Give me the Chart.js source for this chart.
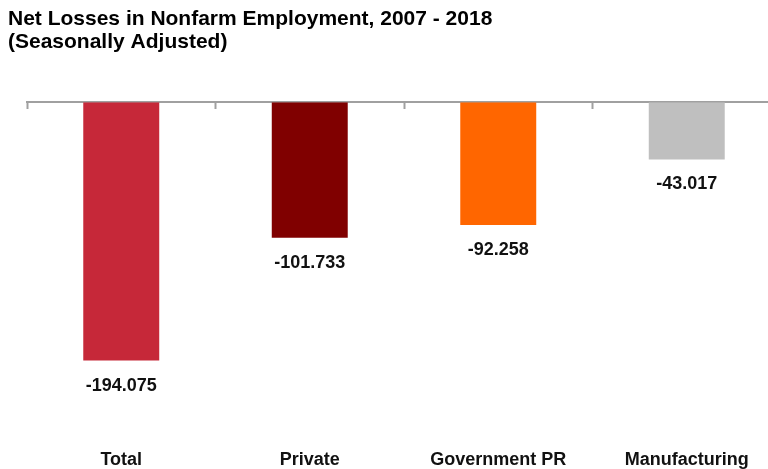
<html>
    <head>
        <meta charset="utf-8">
        <title>Net Losses in Nonfarm Employment</title>
        <script src="https://cdn.jsdelivr.net/npm/chart.js"></script>
        <style>
            body { margin: 0; overflow: hidden; background: #fff; }
        </style>
    </head>
    <body>
        <canvas id="graph" width="781" height="471"></canvas>

        <script>
            // categories and net losses (thousands of jobs)
            var categories = ["Total", "Private", "Government PR", "Manufacturing"]
            var losses = [-194.075, -101.733, -92.258, -43.017]
            var barColors = ["#C62839", "#800000", "#FF6600", "#BFBFBF"]
            var titleLines = ["Net Losses in Nonfarm Employment, 2007 - 2018", "(Seasonally Adjusted)"]

            var font = "'Liberation Sans', Arial, sans-serif"

            // writes each value just under the end of its bar
            const valueLabels = {
                id: "valueLabels",
                afterDatasetsDraw(chart) {
                    const ctx = chart.ctx
                    const meta = chart.getDatasetMeta(0)
                    ctx.save()
                    ctx.font = "bold 18px " + font
                    ctx.fillStyle = "#111"
                    ctx.textAlign = "center"
                    ctx.textBaseline = "middle"
                    meta.data.forEach((bar, i) => {
                        ctx.fillText(losses[i].toFixed(3), bar.x, bar.y + 25)
                    })
                    ctx.restore()
                }
            }

            const graphConfig = {
                type: "bar",
                data: {
                    labels: categories,
                    datasets: [
                        {
                            label: "Net losses",
                            data: losses,
                            backgroundColor: barColors,
                            borderWidth: 0,
                            categoryPercentage: 1,
                            barPercentage: 0.403
                        }
                    ]
                },
                options: {
                    responsive: false,
                    devicePixelRatio: 1,
                    animation: false,
                    layout: { padding: { left: 8, right: 0, top: 0, bottom: 0 } },
                    plugins: {
                        legend: { display: false },
                        tooltip: { enabled: false },
                        title: {
                            display: true,
                            text: titleLines,
                            align: "start",
                            color: "#000",
                            font: { family: font, size: 21, weight: "bold", lineHeight: 1.1 },
                            padding: { top: 8, bottom: 48 }
                        }
                    },
                    scales: {
                        // zero line with tick marks between the categories
                        x: {
                            position: { y: 0 },
                            offset: true,
                            grid: {
                                offset: true,
                                drawOnChartArea: false,
                                drawTicks: true,
                                tickLength: 6,
                                tickColor: "#A0A0A0",
                                tickWidth: 2
                            },
                            border: { display: true, color: "#A0A0A0", width: 2 },
                            ticks: { display: false },
                            afterFit(scale) { scale.height = 0 }
                        },
                        // category names along the bottom
                        x2: {
                            type: "category",
                            labels: categories,
                            position: "bottom",
                            offset: true,
                            grid: { display: false, drawTicks: false },
                            border: { display: false },
                            ticks: {
                                padding: 14,
                                color: "#111",
                                maxRotation: 0,
                                autoSkip: false,
                                font: { family: font, size: 18, weight: "bold" }
                            },
                            afterFit(scale) { scale.height = 36 }
                        },
                        y: {
                            min: -250,
                            max: 0,
                            grid: { display: false },
                            border: { display: false },
                            ticks: { display: false },
                            afterFit(scale) { scale.width = 19 }
                        }
                    }
                },
                plugins: [valueLabels]
            }

            new Chart(document.getElementById("graph"), graphConfig)
        </script>
    </body>
</html>
